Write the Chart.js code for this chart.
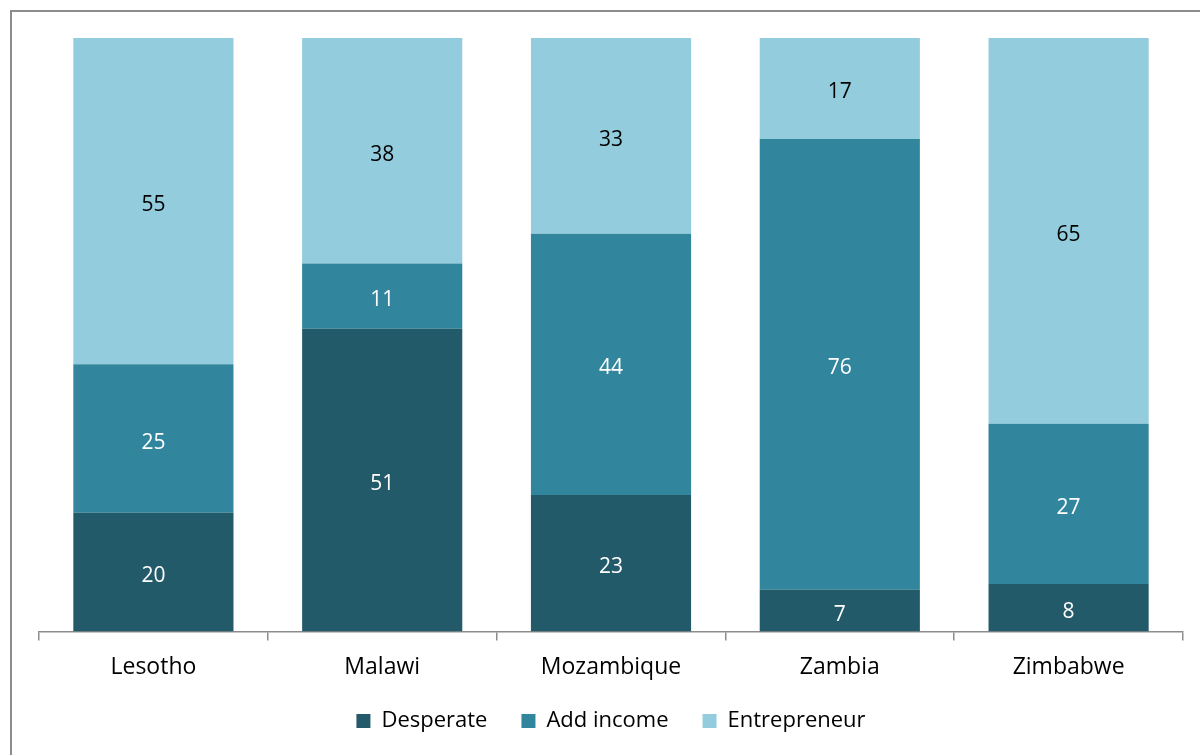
<!DOCTYPE html>
<html>
<head>
<meta charset="utf-8">
<script src="https://cdn.jsdelivr.net/npm/chart.js@4"></script>
<style>
  html, body { margin: 0; padding: 0; background: #fff; overflow: hidden; }
  #frame { position: absolute; left: 10px; top: 10px; width: 1200px; height: 800px; border: 2px solid #8c8c8c; box-sizing: border-box; }
  #wrap { position: absolute; left: 0; top: 0; width: 1200px; height: 755px; }
</style>
</head>
<body>
<div id="frame"></div>
<div id="wrap"><canvas id="chart" width="1200" height="755"></canvas></div>
<script>
// valores (porcentajes)
var countries = ['Lesotho', 'Malawi', 'Mozambique', 'Zambia', 'Zimbabwe'];
var desperate = [20, 51, 23, 7, 8];
var addIncome = [25, 11, 44, 76, 27];
var entrepreneur = [55, 38, 33, 17, 65];
var seriesNames = ['Desperate', 'Add income', 'Entrepreneur'];

var FONT = "'Open Sans', sans-serif";
var LEGEND_PAD = 34;

// etiquetas dentro de cada segmento
var segmentLabels = {
    id: 'segmentLabels',
    afterDatasetsDraw: function(chart) {
        var ctx = chart.ctx;
        ctx.save();
        ctx.font = '21px ' + FONT;
        ctx.textAlign = 'center';
        ctx.textBaseline = 'middle';
        chart.data.datasets.forEach(function(ds, i) {
            var meta = chart.getDatasetMeta(i);
            meta.data.forEach(function(bar, j) {
                var mid = (bar.y + bar.base) / 2;
                ctx.fillStyle = ds.labelColor;
                ctx.fillText(ds.data[j], bar.x, mid + 4);
            });
        });
        ctx.restore();
    }
};

// leyenda mas compacta en vertical, con el mismo espacio horizontal
var legendSpacing = {
    id: 'legendSpacing',
    beforeInit: function(chart) {
        var origFit = chart.legend.fit;
        chart.legend.fit = function() {
            origFit.call(this);
            this.height = 50;
        };
    },
    afterLayout: function(chart) {
        var lg = chart.legend;
        lg.top = 721 - LEGEND_PAD - 11;
        lg.height = LEGEND_PAD * 2 + 22;
        lg.bottom = lg.top + lg.height;
    }
};

new Chart(document.getElementById('chart').getContext('2d'), {
    type: 'bar',
    data: {
        labels: countries,
        datasets: [
            { label: seriesNames[0], data: desperate, backgroundColor: '#235a69', labelColor: '#ffffff' },
            { label: seriesNames[1], data: addIncome, backgroundColor: '#31869e', labelColor: '#ffffff' },
            { label: seriesNames[2], data: entrepreneur, backgroundColor: '#93cddd', labelColor: '#000000' }
        ]
    },
    options: {
        responsive: false,
        animation: false,
        layout: { padding: { left: 39, right: 17, top: 38, bottom: 11 } },
        datasets: { bar: { categoryPercentage: 0.7, barPercentage: 1.0 } },
        plugins: {
            legend: {
                position: 'bottom',
                labels: {
                    boxWidth: 14, boxHeight: 14, color: '#000',
                    font: { family: FONT, size: 22 },
                    padding: LEGEND_PAD
                }
            },
            title: { display: false },
            tooltip: { enabled: false }
        },
        scales: {
            x: {
                stacked: true,
                grid: { display: true, offset: true, drawOnChartArea: false, tickLength: 9, color: '#8c8c8c', lineWidth: 1.5 },
                border: { display: true, color: '#8c8c8c', width: 1.5 },
                ticks: { color: '#000', font: { family: FONT, size: 23 }, padding: 13 }
            },
            y: {
                stacked: true, min: 0, max: 100, display: false
            }
        }
    },
    plugins: [segmentLabels, legendSpacing]
});
</script>
</body>
</html>
